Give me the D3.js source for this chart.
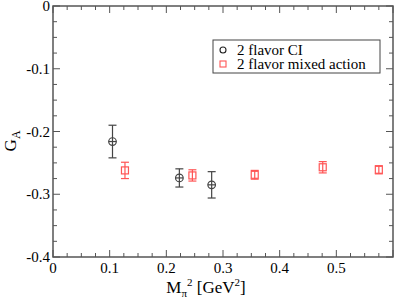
<!DOCTYPE html>
<html><head><meta charset="utf-8">
<script src="https://cdn.jsdelivr.net/npm/d3@7"></script>
<style>body{margin:0;background:#fff}svg{display:block}</style>
</head><body><div id="c"></div>
<script>
// Data
const ciX = [0.105, 0.223, 0.280];
const ciY = [-0.216, -0.274, -0.285];
const ciErr = [0.026, 0.0145, 0.021];
const maX = [0.127, 0.246, 0.356, 0.476, 0.575];
const maY = [-0.262, -0.270, -0.269, -0.257, -0.261];
const maErr = [0.013, 0.009, 0.007, 0.009, 0.0065];
const xTicks = [0, 0.1, 0.2, 0.3, 0.4, 0.5];
const yTicks = [0, -0.1, -0.2, -0.3, -0.4];
const seriesNames = ["2 flavor CI", "2 flavor mixed action"];

const FONT = "Liberation Serif";
const W = 398, H = 304;
const m = {l: 53, r: 5, t: 6, b: 47};
const svg = d3.select("#c").append("svg").attr("width", W).attr("height", H);
const x = d3.scaleLinear().domain([0, 0.6]).range([m.l, W - m.r]);
const y = d3.scaleLinear().domain([-0.4, 0]).range([H - m.b, m.t]);
const axisCol = "#555";
const txt = (sel) => sel.append("text").attr("font-family", FONT).attr("fill", "#000");

// frame
svg.append("rect").attr("x", x(0)).attr("y", y(0)).attr("width", x(0.6) - x(0)).attr("height", y(-0.4) - y(0))
  .attr("fill", "none").attr("stroke", axisCol).attr("stroke-width", 1.5);

const xMinor = d3.range(0, 0.6001, 0.025);
const yMinor = d3.range(-0.4, 0.0001, 0.025);
const tg = svg.append("g").attr("stroke", axisCol).attr("stroke-width", 1);
xMinor.forEach((v, i) => {
  const L = (i % 4 === 0) ? 7 : 4;
  tg.append("line").attr("x1", x(v)).attr("x2", x(v)).attr("y1", y(-0.4)).attr("y2", y(-0.4) - L);
  tg.append("line").attr("x1", x(v)).attr("x2", x(v)).attr("y1", y(0)).attr("y2", y(0) + L);
});
yMinor.forEach((v, i) => {
  const L = (i % 4 === 0) ? 7 : 4;
  tg.append("line").attr("y1", y(v)).attr("y2", y(v)).attr("x1", x(0)).attr("x2", x(0) + L);
  tg.append("line").attr("y1", y(v)).attr("y2", y(v)).attr("x1", x(0.6)).attr("x2", x(0.6) - L);
});

// tick labels
xTicks.forEach(v => {
  txt(svg).attr("x", x(v)).attr("y", y(-0.4) + 16).attr("text-anchor", "middle")
    .attr("font-size", 15).text(v === 0 ? "0" : d3.format(".1f")(v));
});
yTicks.forEach(v => {
  txt(svg).attr("x", x(0) - 3).attr("y", y(v) + 5).attr("text-anchor", "end")
    .attr("font-size", 15).text(v === 0 ? "0" : d3.format(".1f")(v).replace("−", "-"));
});

// axis labels
const yl = txt(svg).attr("transform", `translate(16,${y(-0.215)}) rotate(-90)`)
  .attr("text-anchor", "middle").attr("font-size", 17);
yl.append("tspan").text("G");
yl.append("tspan").attr("dy", 4).attr("font-size", 12).text("A");

const xl = txt(svg).attr("x", x(0.3) - 17).attr("y", 293).attr("text-anchor", "middle").attr("font-size", 17);
xl.append("tspan").text("M");
xl.append("tspan").attr("dy", 4).attr("font-size", 11).text("π");
xl.append("tspan").attr("dy", -11).attr("font-size", 11).text("2");
xl.append("tspan").attr("dy", 7).text(" [GeV");
xl.append("tspan").attr("dy", -7).attr("font-size", 11).text("2");
xl.append("tspan").attr("dy", 7).text("]");

// error bars + markers
function drawSeries(xs, ys, es, col, shape) {
  const g = svg.append("g").attr("stroke", col).attr("fill", "none").attr("stroke-width", 1.2);
  xs.forEach((xv, i) => {
    const cx = x(xv), cy = y(ys[i]), t = y(ys[i] + es[i]), b = y(ys[i] - es[i]);
    g.append("line").attr("x1", cx).attr("x2", cx).attr("y1", t).attr("y2", b);
    g.append("line").attr("x1", cx - 4).attr("x2", cx + 4).attr("y1", t).attr("y2", t);
    g.append("line").attr("x1", cx - 4).attr("x2", cx + 4).attr("y1", b).attr("y2", b);
    if (shape === "circle") {
      g.append("circle").attr("cx", cx).attr("cy", cy).attr("r", 3.8);
      g.append("line").attr("x1", cx - 3.8).attr("x2", cx + 3.8).attr("y1", cy).attr("y2", cy);
    } else {
      g.append("rect").attr("x", cx - 3.5).attr("y", cy - 3.5).attr("width", 7).attr("height", 7);
    }
  });
}
drawSeries(ciX, ciY, ciErr, "#444", "circle");
drawSeries(maX, maY, maErr, "#f55", "square");

// legend
const lg = svg.append("g");
lg.append("rect").attr("x", 213).attr("y", 40).attr("width", 167).attr("height", 33)
  .attr("fill", "#fff").attr("stroke", "#444").attr("stroke-width", 1);
lg.append("circle").attr("cx", 223).attr("cy", 50).attr("r", 3).attr("fill", "none").attr("stroke", "#222").attr("stroke-width", 1.1);
lg.append("rect").attr("x", 220).attr("y", 61).attr("width", 6).attr("height", 6).attr("fill", "none").attr("stroke", "#f55").attr("stroke-width", 1.1);
txt(lg).attr("x", 237).attr("y", 55).attr("font-size", 15).text(seriesNames[0]);
txt(lg).attr("x", 237).attr("y", 69).attr("font-size", 15).text(seriesNames[1]);
</script></body></html>
